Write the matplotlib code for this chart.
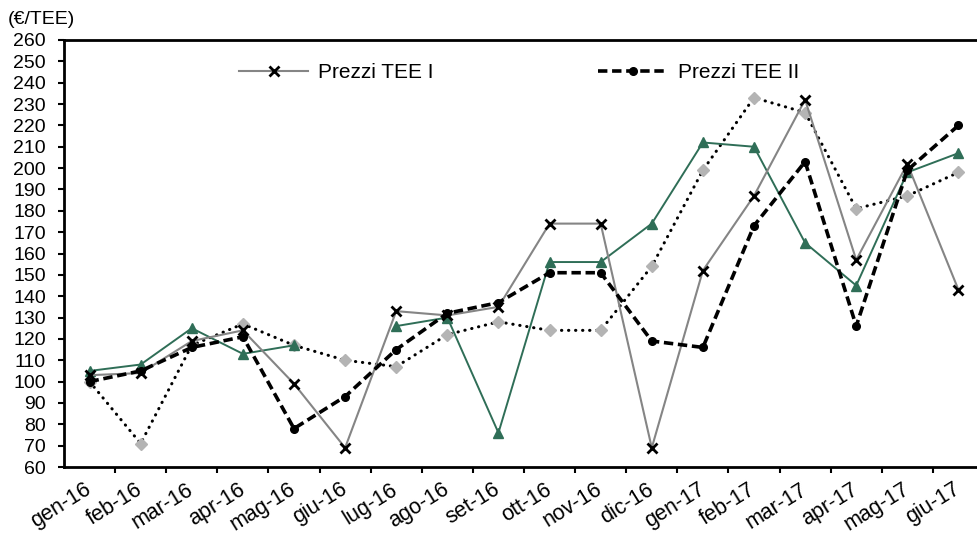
import matplotlib
matplotlib.use("Agg")
import matplotlib.pyplot as plt
import numpy as np

plt.rcParams['font.family'] = ['Liberation Sans', 'DejaVu Sans']

months = ["gen-16", "feb-16", "mar-16", "apr-16", "mag-16", "giu-16",
          "lug-16", "ago-16", "set-16", "ott-16", "nov-16", "dic-16",
          "gen-17", "feb-17", "mar-17", "apr-17", "mag-17", "giu-17"]

tee_1 = [103, 104, 119, 124, 99, 69, 133, 131, 135, 174, 174, 69,
         152, 187, 232, 157, 202, 143]
tee_2 = [100, 105, 116, 121, 78, 93, 115, 132, 137, 151, 151, 119,
         116, 173, 203, 126, 199, 220]
tee_green = [105, 108, 125, 113, 117, np.nan, 126, 130, 76, 156, 156, 174,
             212, 210, 165, 145, 198, 207]
tee_dotted = [100, 71, 117, 127, 117, 110, 107, 122, 128, 124, 124, 154,
              199, 233, 226, 181, 187, 198]

y_ticks = list(range(60, 261, 10))

fig = plt.figure(figsize=(9.78, 5.36), dpi=100)
# axes run a little past the right edge of the canvas
ax = fig.add_axes([64 / 978, 1 - 467 / 536, 920 / 978, 427 / 536])

x = np.arange(len(months))

ax.plot(x, tee_dotted, color='black', lw=2.2, linestyle=(0, (0.1, 2.2)),
        dash_capstyle='round', marker='D', ms=6, mfc='#b4b4b4', mec='#b4b4b4',
        zorder=2)
ax.plot(x, tee_green, color='#2f6e57', lw=1.4, marker='^', ms=7,
        mfc='#2f6e57', mec='#2f6e57', zorder=3)
l1, = ax.plot(x, tee_1, color='#858585', lw=1.5, marker='x', ms=7,
              mec='black', mew=2, zorder=4, label='Prezzi TEE I')
l2, = ax.plot(x, tee_2, color='black', lw=2.6, linestyle=(0, (2.6, 1.3)),
              marker='o', ms=5.5, mfc='black', mec='black', zorder=5,
              label='Prezzi TEE II')

ax.set_xlim(-0.5, len(months) - 0.5)
ax.set_ylim(60, 260)
ax.set_yticks(y_ticks)
ax.set_yticklabels([str(v) for v in y_ticks])

ax.set_xticks(x)
ax.set_xticks(np.arange(0.5, len(months) - 0.5, 1), minor=True)
ax.tick_params(axis='x', which='major', length=0, pad=15)
ax.tick_params(axis='x', which='minor', length=4, width=1.5, direction='out')
ax.tick_params(axis='y', length=4, width=1.5, direction='out', pad=9,
               labelsize=14)
ax.set_xticklabels(months, rotation=32, ha='right', va='center',
                   rotation_mode='anchor', fontsize=15.5)

for side in ['left', 'bottom', 'top']:
    ax.spines[side].set_linewidth(2)
    ax.spines[side].set_color('black')
ax.spines['right'].set_visible(False)

ax.legend(handles=[l1, l2], ncol=2, loc='upper left',
          bbox_to_anchor=(0.17, 0.99), frameon=False, fontsize=15,
          handlelength=3.3, columnspacing=7.9, handletextpad=0.5)

fig.text(8 / 978, 1 - 19 / 536, "(€/TEE)", fontsize=14, va='center',
         ha='left')

fig.savefig("out.png", dpi=100)
